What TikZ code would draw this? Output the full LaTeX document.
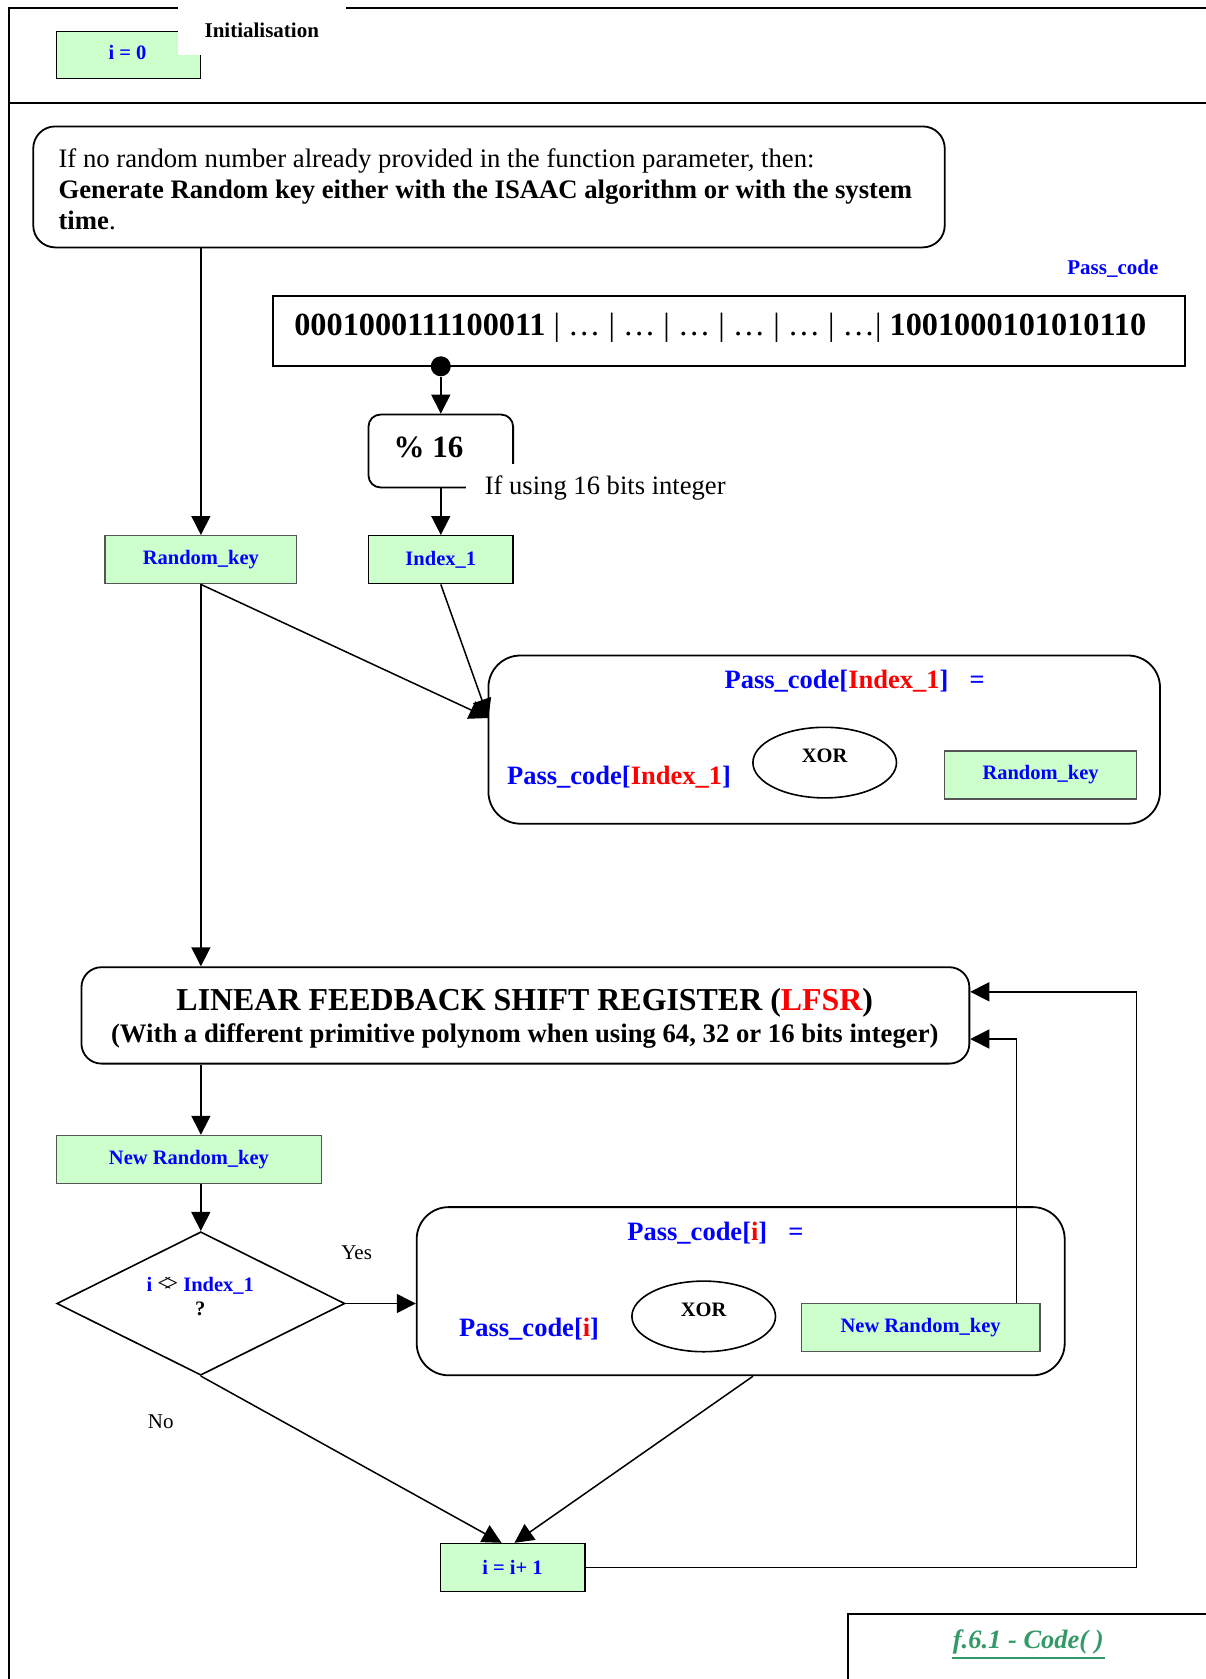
\documentclass[tikz,border=0pt]{standalone}
\usepackage{fontspec}
\setmainfont{Liberation Serif}
\usetikzlibrary{arrows.meta,shapes.geometric}
\definecolor{gfill}{HTML}{CCFFCC}
\definecolor{tblue}{HTML}{0000FF}
\definecolor{tred}{HTML}{FF0000}
\definecolor{capgreen}{HTML}{339966}
\definecolor{gborder}{HTML}{555555}
\newcommand{\fsz}[1]{\fontsize{#1}{#1}\selectfont}
\begin{document}
\begin{tikzpicture}[x=1pt,y=-1pt, line width=1.6pt,
  gbox/.style={draw=black, fill=gfill, line width=1.4pt, inner sep=0pt, text=tblue, font=\fsz{20.5}\bfseries},
  gboxg/.style={gbox, draw=gborder},
  rbox/.style={draw=black, line width=1.8pt, rounded corners=#1, inner sep=0pt},
  arr/.style={-{Triangle[length=19pt,width=19pt]}, line width=1.5pt},
  frame/.style={line width=2pt},
  plain/.style={inner sep=0pt},
]
\useasboundingbox (0,0) rectangle (1206,1679);
% outer frame
\draw[frame] (9,1679) -- (9,7.5) -- (1206,7.5);
\draw[frame] (9,103) -- (1206,103);
% initialisation
\node[gbox, minimum width=143.5pt, minimum height=47pt] (i0) at (128.5,54.7) {};
\node[fill=white, minimum width=168pt, minimum height=48pt, anchor=north west, inner sep=0pt, font=\fsz{21}\bfseries] (initlbl) at (177,6) {Initialisation};
\node[plain, text=tblue, font=\fsz{20.5}\bfseries] (i0txt) at (127.5,52.5) {i = 0};
% top box
\node[rbox=22pt, minimum width=911.5pt, minimum height=121pt] (top) at (489,186.9) {};
\node[plain, anchor=base west, font=\fsz{26.7}] (t1) at (57.8,167) {If no random number already provided in the function parameter, then:};
\node[plain, anchor=base west, font=\fsz{26.7}\bfseries] (t2) at (57.8,198) {Generate Random key either with the ISAAC algorithm or with the system};
\node[plain, anchor=base west, font=\fsz{26.7}] (t3) at (57.8,229) {\textbf{time}.};
% pass code bits
\node[plain, text=tblue, font=\fsz{21}\bfseries] (pclbl) at (1112.9,268.8) {Pass\_code};
\node[draw=black, line width=1.8pt, minimum width=911.5pt, minimum height=70.7pt, inner sep=0pt] (bitbox) at (728.9,331) {};
\node[plain, anchor=west, font=\fsz{32.3}\bfseries] (bits) at (293.5,327.5) {0001000111100011\mdseries{} | \dots{} | \dots{} | \dots{} | \dots{} | \dots{} | \dots| \bfseries 1001000101010110};
\node[circle, fill=black, minimum size=20pt, inner sep=0pt] (dot) at (440.8,366.3) {};
% % 16
\node[rbox=12pt, minimum width=144.6pt, minimum height=72.9pt] (pct) at (440.8,451) {};
\node[plain, font=\fsz{31}\bfseries] (pcttxt) at (428.4,447.7) {\% 16};
\node[fill=white, anchor=north west, inner xsep=19pt, inner ysep=12pt, font=\fsz{26.6}] (iflbl) at (465,463) {If using 16 bits integer};
% key boxes
\node[gboxg, minimum width=191.7pt, minimum height=48pt] (rk) at (200.9,559.7) {Random\_key};
\node[gbox, minimum width=144.6pt, minimum height=48pt] (idx) at (440.8,559.7) {Index\_1};
% box 1
\node[rbox=32pt, minimum width=671.6pt, minimum height=168.2pt] (box1) at (824.2,739.6) {};
\node[plain, font=\fsz{26.5}\bfseries, text=tblue] (b1title) at (854.7,681.2) {Pass\_code[\textcolor{tred}{Index\_1}]\hspace{0.8em}=};
\node[plain, font=\fsz{26.5}\bfseries, text=tblue] (b1left) at (619,777.6) {Pass\_code[\textcolor{tred}{Index\_1}]};
\node[ellipse, draw=black, line width=1.6pt, minimum width=143.6pt, minimum height=70.6pt, inner sep=0pt] (xor1) at (824.7,762.6) {};
\node[plain, font=\fsz{20.5}\bfseries] (xor1txt) at (824.7,756.2) {XOR};
\node[gboxg, minimum width=191.7pt, minimum height=48.2pt] (rk1) at (1040.6,774.9) {Random\_key};
% LFSR
\node[rbox=20pt, minimum width=887.9pt, minimum height=96.4pt] (lfsr) at (525.4,1015.4) {};
\node[plain, font=\fsz{31.9}\bfseries] (lf1) at (524.8,1002.5) {LINEAR FEEDBACK SHIFT REGISTER (\textcolor{tred}{LFSR})};
\node[plain, font=\fsz{26.7}\bfseries] (lf2) at (524.8,1036) {(With a different primitive polynom when using 64, 32 or 16 bits integer)};
% new random key
\node[gboxg, minimum width=264.5pt, minimum height=48pt] (nrk) at (189,1159.5) {New Random\_key};
% diamond
\node[diamond, draw=black, line width=1.6pt, minimum width=288.1pt, minimum height=143.5pt, inner sep=0pt] (dia) at (200.8,1303.5) {};
\node[plain, font=\fsz{20.5}\bfseries, text=tblue] (diat1) at (200.3,1285.3) {i \textcolor{black}{\fsz{25}\mdseries<\kern-0.3em>} Index\_1};
\node[plain, font=\fsz{20.5}\bfseries] (diat2) at (200.3,1309) {?};
\node[plain, font=\fsz{21}] (yes) at (356.7,1253.2) {Yes};
\node[plain, font=\fsz{21}] (no) at (160.7,1421.4) {No};
% box 2
\node[rbox=32pt, minimum width=648pt, minimum height=168.2pt] (box2) at (740.7,1291.2) {};
\node[plain, font=\fsz{26.5}\bfseries, text=tblue] (b2title) at (715.5,1232.8) {Pass\_code[\textcolor{tred}{i}]\hspace{0.8em}=};
\node[plain, font=\fsz{26.5}\bfseries, text=tblue] (b2left) at (529.1,1329.2) {Pass\_code[\textcolor{tred}{i}]};
\node[ellipse, draw=black, line width=1.6pt, minimum width=143.6pt, minimum height=70.6pt, inner sep=0pt] (xor2) at (703.7,1316.4) {};
\node[plain, font=\fsz{20.5}\bfseries] (xor2txt) at (703.7,1310) {XOR};
\node[gboxg, minimum width=238.8pt, minimum height=48.2pt] (nrk2) at (920.6,1327.6) {New Random\_key};
% increment
\node[gbox, minimum width=144.6pt, minimum height=48pt] (inc) at (512.5,1567.5) {i = i+ 1};
% caption
\draw[frame] (848.3,1679) -- (848.3,1614.2) -- (1206,1614.2);
\node[plain, font=\fsz{26.5}\bfseries\itshape, text=capgreen] (cap) at (1028.3,1642) {f.6.1 - Code( )};
\draw[capgreen, line width=2.6pt] ([yshift=-3pt]cap.south west) -- ([yshift=-3pt]cap.south east);
% connectors
\coordinate (c1) at (488.4,718);
\coordinate (fb1) at (1016.5,1039);
\coordinate (fb3) at (1136.4,991.8);
\draw[arr] (top.south -| rk.north) -- (rk.north);
\draw[arr] (dot) -- (pct.north);
\draw[arr] (pct.south) -- (idx.north);
\draw[arr] (rk.south) -- (c1);
\draw[arr] (idx.south) -- (c1);
\draw[arr] (rk.south) -- (rk.south |- lfsr.north);
\draw[arr] (lfsr.south -| rk.south) -- (nrk.north -| rk.south);
\draw[arr] (nrk.south -| dia.north) -- (dia.north);
\draw[arr] (dia.east) -- (dia.east -| box2.west);
\draw[arr] (nrk2.north -| fb1) -- (fb1) -- (lfsr.east |- fb1);
\draw[arr] (dia.south) -- ([xshift=-11pt]inc.north);
\draw[arr] ([xshift=12.3pt]box2.south) -- ([xshift=2pt]inc.north);
\draw[arr] (inc.east) -| (fb3) -- (lfsr.east |- fb3);
\end{tikzpicture}
\end{document}
